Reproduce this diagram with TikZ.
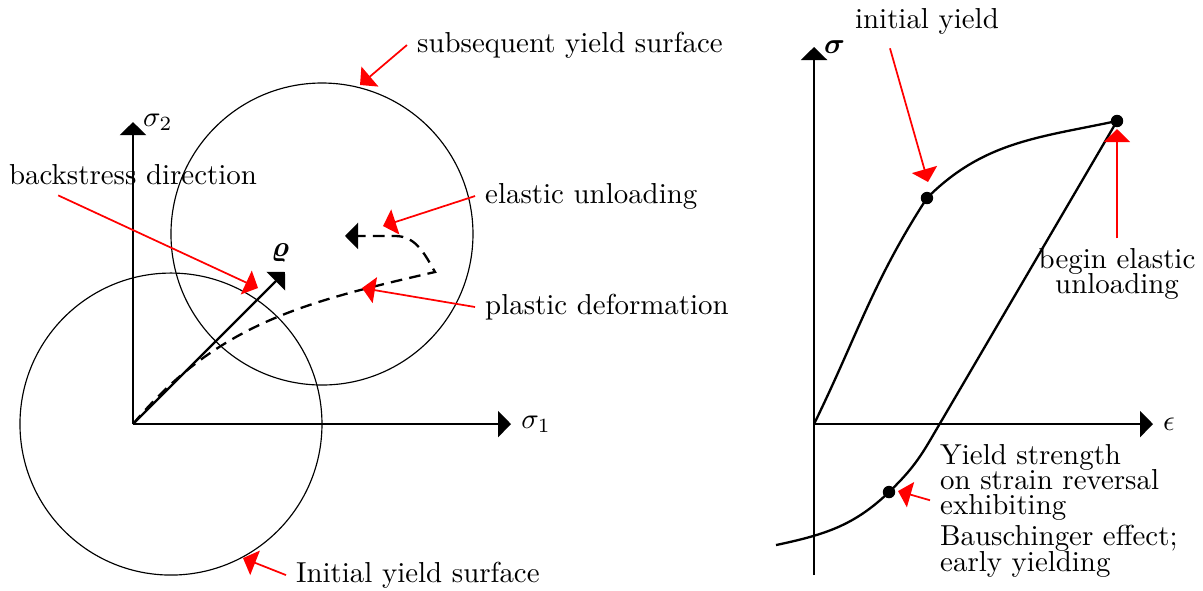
\documentclass[tikz,border=0pt]{standalone}
\usepackage{amsmath,amssymb}
\usetikzlibrary{calc,arrows.meta}

\begin{document}
\begin{tikzpicture}[
	axis/.style={thick,-{Triangle[length=4.5pt,width=9pt]}},
	redarr/.style={red,semithick,-{Triangle[length=4.5pt,width=9pt]}},
	dot/.style={circle,fill,inner sep=0pt,minimum size=4.3pt}]
	\useasboundingbox (0,0) rectangle (14.635,7.178);
	% yield surfaces
	\coordinate (O) at (1.618,2.019);
	\coordinate (S1) at (6.217,2.019);
	\coordinate (S2) at (1.618,5.693);
	\coordinate (R) at (3.467,3.869);
	\coordinate (K) at (5.292,3.869);
	\draw (2.080,2.019) circle (1.837);
	\draw (3.917,4.331) circle (1.837);
	\draw[axis] (O)--(S1);
	\draw[axis] (O)--(S2);
	\draw[axis] (O)--(R);
	\draw[thick,dash pattern=on 4pt off 2.5pt,-{Triangle[length=4.5pt,width=9pt]}]
		(O) to[out=50,in=193] (K) to[out=120,in=0] (4.805,4.307) -- (4.197,4.307);
	\node[right] (s1) at (S1) {$\sigma_1$};
	\node[right] (s2) at (S2) {$\sigma_2$};
	\node[above] (rho) at (3.41,3.869) {$\boldsymbol{\varrho}$};
	\node[right] (lsub) at (4.951,6.630) {subsequent yield surface};
	\node (lback) at (1.618,5.049) {backstress direction};
	\node[right] (lel) at (5.779,4.793) {elastic unloading};
	\node[right] (lpl) at (5.779,3.443) {plastic deformation};
	\node[right] (lini) at (3.479,0.182) {Initial yield surface};
	\coordinate (tsub) at (4.380,6.144);
	\coordinate (tback) at (3.139,3.674);
	\coordinate (tel) at (4.659,4.428);
	\coordinate (tpl) at (4.404,3.674);
	\coordinate (tini) at (2.956,0.389);
	\draw[redarr] (lsub.west) -- (tsub);
	\draw[redarr] ([xshift=-0.91cm]lback.south) -- (tback);
	\draw[redarr] (lel.west) -- (tel);
	\draw[redarr] (lpl.west) -- (tpl);
	\draw[redarr] (lini.west) -- (tini);
	% stress strain curve
	\coordinate (O2) at (9.903,2.019);
	\coordinate (E) at (14.027,2.019);
	\coordinate (S) at (9.903,6.606);
	\coordinate (Y1) at (11.277,4.769);
	\coordinate (Y2) at (13.589,5.706);
	\coordinate (Y3) at (10.815,1.192);
	\draw[thick] (9.903,0.182)--(O2);
	\draw[axis] (O2)--(E);
	\draw[axis] (O2)--(S);
	\node[right] (eps) at (E) {$\epsilon$};
	\node[right] (sig) at (S) {$\boldsymbol{\sigma}$};
	\draw[thick] (O2) to[out=64,in=237] (Y1) to[out=45,in=192] (Y2)
		-- (11.338,1.861) to[out=240,in=44] (Y3) to[out=224,in=12] (9.440,0.547);
	\foreach \p in {Y1,Y2,Y3}
		\node[dot] (d\p) at (\p) {};
	\node (linit) at (11.277,6.922) {initial yield};
	\node[align=center] (lbegin) at (13.589,3.844) {begin elastic\\[-3.3pt]unloading};
	\node[anchor=north west,align=left] (lyield) at (11.314,1.898)
		{Yield strength\\[-3.3pt]on strain reversal\\[-3.3pt]exhibiting\\[-1.2pt]Bauschinger effect;\\[-3pt]early yielding};
	\coordinate (tinit) at (11.290,4.964);
	\coordinate (tbegin) at (13.589,5.608);
	\coordinate (tyield) at (10.925,1.204);
	\draw[redarr] ([xshift=-0.45cm,yshift=-0.05cm]linit.south) -- (tinit);
	\draw[redarr] (lbegin.north) -- (tbegin);
	\draw[redarr] ([yshift=3.7pt]lyield.west) -- (tyield);
\end{tikzpicture}
\end{document}
